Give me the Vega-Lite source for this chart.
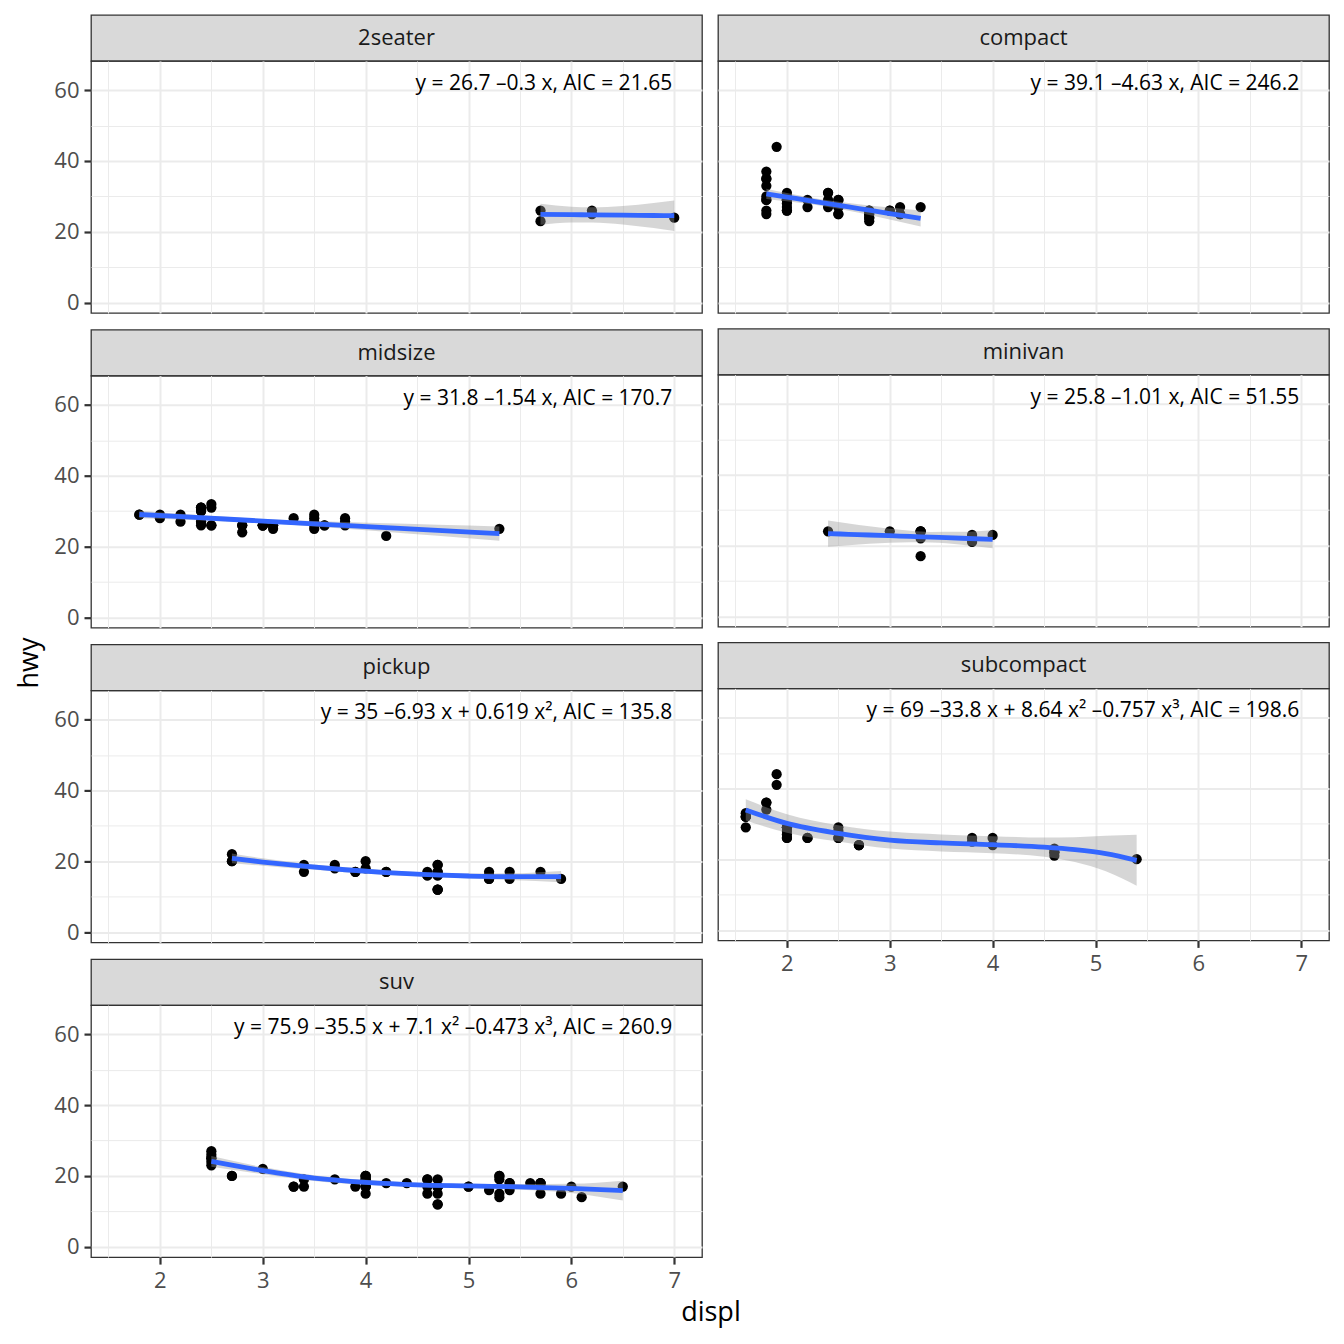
{
  "$schema": "https://vega.github.io/schema/vega-lite/v6.json",
  "background": "white",
  "padding": {"left": 16, "top": 14, "right": 10, "bottom": 10},
  "title": {"text": "displ", "orient": "bottom", "anchor": "middle", "offset": 8, "dx": 38, "fontSize": 27},
  "datasets": {
    "mpg": [
      {"class":"2seater","displ":5.7,"hwy":26},{"class":"2seater","displ":5.7,"hwy":23},{"class":"2seater","displ":6.2,"hwy":26},{"class":"2seater","displ":6.2,"hwy":25},{"class":"2seater","displ":7.0,"hwy":24},
      {"class":"compact","displ":1.8,"hwy":29},{"class":"compact","displ":1.8,"hwy":29},{"class":"compact","displ":2.0,"hwy":31},{"class":"compact","displ":2.0,"hwy":30},{"class":"compact","displ":2.8,"hwy":26},{"class":"compact","displ":2.8,"hwy":26},{"class":"compact","displ":3.1,"hwy":27},
      {"class":"compact","displ":1.8,"hwy":26},{"class":"compact","displ":1.8,"hwy":25},{"class":"compact","displ":2.0,"hwy":28},{"class":"compact","displ":2.0,"hwy":27},{"class":"compact","displ":2.8,"hwy":25},{"class":"compact","displ":2.8,"hwy":25},{"class":"compact","displ":3.1,"hwy":25},{"class":"compact","displ":3.1,"hwy":25},
      {"class":"compact","displ":2.4,"hwy":29},{"class":"compact","displ":2.4,"hwy":27},
      {"class":"compact","displ":2.5,"hwy":27},{"class":"compact","displ":2.5,"hwy":25},{"class":"compact","displ":2.5,"hwy":27},{"class":"compact","displ":2.5,"hwy":25},
      {"class":"compact","displ":2.2,"hwy":27},{"class":"compact","displ":2.2,"hwy":29},{"class":"compact","displ":2.4,"hwy":31},{"class":"compact","displ":2.4,"hwy":31},{"class":"compact","displ":3.0,"hwy":26},{"class":"compact","displ":3.0,"hwy":26},{"class":"compact","displ":3.3,"hwy":27},
      {"class":"compact","displ":1.8,"hwy":30},{"class":"compact","displ":1.8,"hwy":33},{"class":"compact","displ":1.8,"hwy":35},{"class":"compact","displ":1.8,"hwy":37},{"class":"compact","displ":1.8,"hwy":35},
      {"class":"compact","displ":2.0,"hwy":29},{"class":"compact","displ":2.0,"hwy":26},{"class":"compact","displ":2.0,"hwy":29},{"class":"compact","displ":2.0,"hwy":29},{"class":"compact","displ":2.8,"hwy":24},
      {"class":"compact","displ":1.9,"hwy":44},{"class":"compact","displ":2.0,"hwy":29},{"class":"compact","displ":2.0,"hwy":26},{"class":"compact","displ":2.0,"hwy":29},{"class":"compact","displ":2.0,"hwy":29},{"class":"compact","displ":2.5,"hwy":29},{"class":"compact","displ":2.5,"hwy":29},{"class":"compact","displ":2.8,"hwy":23},{"class":"compact","displ":2.8,"hwy":24},
      {"class":"midsize","displ":2.8,"hwy":24},{"class":"midsize","displ":3.1,"hwy":25},{"class":"midsize","displ":4.2,"hwy":23},
      {"class":"midsize","displ":2.4,"hwy":27},{"class":"midsize","displ":2.4,"hwy":30},{"class":"midsize","displ":3.1,"hwy":26},{"class":"midsize","displ":3.5,"hwy":29},{"class":"midsize","displ":3.6,"hwy":26},
      {"class":"midsize","displ":2.4,"hwy":26},{"class":"midsize","displ":2.4,"hwy":27},{"class":"midsize","displ":2.4,"hwy":30},{"class":"midsize","displ":2.4,"hwy":31},{"class":"midsize","displ":2.5,"hwy":26},{"class":"midsize","displ":2.5,"hwy":26},{"class":"midsize","displ":3.3,"hwy":28},
      {"class":"midsize","displ":2.5,"hwy":31},{"class":"midsize","displ":2.5,"hwy":32},{"class":"midsize","displ":3.5,"hwy":27},{"class":"midsize","displ":3.5,"hwy":26},
      {"class":"midsize","displ":3.0,"hwy":26},{"class":"midsize","displ":3.0,"hwy":26},{"class":"midsize","displ":3.5,"hwy":25},
      {"class":"midsize","displ":3.1,"hwy":26},{"class":"midsize","displ":3.8,"hwy":26},{"class":"midsize","displ":3.8,"hwy":27},{"class":"midsize","displ":3.8,"hwy":28},{"class":"midsize","displ":5.3,"hwy":25},
      {"class":"midsize","displ":2.2,"hwy":29},{"class":"midsize","displ":2.2,"hwy":27},{"class":"midsize","displ":2.4,"hwy":31},{"class":"midsize","displ":2.4,"hwy":31},{"class":"midsize","displ":3.0,"hwy":26},{"class":"midsize","displ":3.0,"hwy":26},{"class":"midsize","displ":3.5,"hwy":28},
      {"class":"midsize","displ":1.8,"hwy":29},{"class":"midsize","displ":1.8,"hwy":29},{"class":"midsize","displ":2.0,"hwy":28},{"class":"midsize","displ":2.0,"hwy":29},{"class":"midsize","displ":2.8,"hwy":26},{"class":"midsize","displ":2.8,"hwy":26},{"class":"midsize","displ":3.6,"hwy":26},
      {"class":"minivan","displ":2.4,"hwy":24},{"class":"minivan","displ":3.0,"hwy":24},{"class":"minivan","displ":3.3,"hwy":22},{"class":"minivan","displ":3.3,"hwy":24},{"class":"minivan","displ":3.3,"hwy":24},{"class":"minivan","displ":3.3,"hwy":24},{"class":"minivan","displ":3.3,"hwy":17},{"class":"minivan","displ":3.8,"hwy":22},{"class":"minivan","displ":3.8,"hwy":21},{"class":"minivan","displ":3.8,"hwy":23},{"class":"minivan","displ":4.0,"hwy":23},
      {"class":"pickup","displ":3.7,"hwy":19},{"class":"pickup","displ":3.7,"hwy":18},{"class":"pickup","displ":3.9,"hwy":17},{"class":"pickup","displ":3.9,"hwy":17},{"class":"pickup","displ":4.7,"hwy":19},{"class":"pickup","displ":4.7,"hwy":19},{"class":"pickup","displ":4.7,"hwy":12},{"class":"pickup","displ":5.2,"hwy":17},{"class":"pickup","displ":5.2,"hwy":15},
      {"class":"pickup","displ":4.7,"hwy":16},{"class":"pickup","displ":4.7,"hwy":12},{"class":"pickup","displ":4.7,"hwy":17},{"class":"pickup","displ":4.7,"hwy":17},{"class":"pickup","displ":4.7,"hwy":16},{"class":"pickup","displ":4.7,"hwy":12},{"class":"pickup","displ":5.2,"hwy":15},{"class":"pickup","displ":5.2,"hwy":16},{"class":"pickup","displ":5.7,"hwy":17},{"class":"pickup","displ":5.9,"hwy":15},
      {"class":"pickup","displ":4.2,"hwy":17},{"class":"pickup","displ":4.2,"hwy":17},{"class":"pickup","displ":4.6,"hwy":16},{"class":"pickup","displ":4.6,"hwy":16},{"class":"pickup","displ":4.6,"hwy":17},{"class":"pickup","displ":5.4,"hwy":15},{"class":"pickup","displ":5.4,"hwy":17},
      {"class":"pickup","displ":2.7,"hwy":20},{"class":"pickup","displ":2.7,"hwy":20},{"class":"pickup","displ":2.7,"hwy":22},{"class":"pickup","displ":3.4,"hwy":17},{"class":"pickup","displ":3.4,"hwy":19},{"class":"pickup","displ":4.0,"hwy":18},{"class":"pickup","displ":4.0,"hwy":20},
      {"class":"subcompact","displ":3.8,"hwy":26},{"class":"subcompact","displ":3.8,"hwy":25},{"class":"subcompact","displ":4.0,"hwy":26},{"class":"subcompact","displ":4.0,"hwy":24},{"class":"subcompact","displ":4.6,"hwy":21},{"class":"subcompact","displ":4.6,"hwy":22},{"class":"subcompact","displ":4.6,"hwy":23},{"class":"subcompact","displ":4.6,"hwy":22},{"class":"subcompact","displ":5.4,"hwy":20},
      {"class":"subcompact","displ":1.6,"hwy":33},{"class":"subcompact","displ":1.6,"hwy":32},{"class":"subcompact","displ":1.6,"hwy":32},{"class":"subcompact","displ":1.6,"hwy":29},{"class":"subcompact","displ":1.6,"hwy":32},{"class":"subcompact","displ":1.8,"hwy":34},{"class":"subcompact","displ":1.8,"hwy":36},{"class":"subcompact","displ":1.8,"hwy":36},{"class":"subcompact","displ":2.0,"hwy":29},
      {"class":"subcompact","displ":2.0,"hwy":26},{"class":"subcompact","displ":2.0,"hwy":29},{"class":"subcompact","displ":2.0,"hwy":28},{"class":"subcompact","displ":2.0,"hwy":27},{"class":"subcompact","displ":2.7,"hwy":24},{"class":"subcompact","displ":2.7,"hwy":24},{"class":"subcompact","displ":2.7,"hwy":24},
      {"class":"subcompact","displ":2.2,"hwy":26},{"class":"subcompact","displ":2.2,"hwy":26},{"class":"subcompact","displ":2.5,"hwy":26},{"class":"subcompact","displ":2.5,"hwy":26},
      {"class":"subcompact","displ":1.9,"hwy":44},{"class":"subcompact","displ":1.9,"hwy":41},{"class":"subcompact","displ":2.0,"hwy":29},{"class":"subcompact","displ":2.0,"hwy":26},{"class":"subcompact","displ":2.5,"hwy":28},{"class":"subcompact","displ":2.5,"hwy":29},
      {"class":"suv","displ":5.3,"hwy":20},{"class":"suv","displ":5.3,"hwy":15},{"class":"suv","displ":5.3,"hwy":20},{"class":"suv","displ":5.7,"hwy":17},{"class":"suv","displ":6.0,"hwy":17},
      {"class":"suv","displ":5.3,"hwy":19},{"class":"suv","displ":5.3,"hwy":14},{"class":"suv","displ":5.7,"hwy":15},{"class":"suv","displ":6.5,"hwy":17},
      {"class":"suv","displ":3.9,"hwy":17},{"class":"suv","displ":4.7,"hwy":17},{"class":"suv","displ":4.7,"hwy":12},{"class":"suv","displ":4.7,"hwy":17},{"class":"suv","displ":5.2,"hwy":16},{"class":"suv","displ":5.7,"hwy":18},{"class":"suv","displ":5.9,"hwy":15},
      {"class":"suv","displ":4.6,"hwy":17},{"class":"suv","displ":5.4,"hwy":17},{"class":"suv","displ":5.4,"hwy":18},
      {"class":"suv","displ":4.0,"hwy":17},{"class":"suv","displ":4.0,"hwy":19},{"class":"suv","displ":4.0,"hwy":17},{"class":"suv","displ":4.0,"hwy":19},{"class":"suv","displ":4.6,"hwy":19},{"class":"suv","displ":5.0,"hwy":17},
      {"class":"suv","displ":3.0,"hwy":22},{"class":"suv","displ":3.7,"hwy":19},{"class":"suv","displ":4.0,"hwy":20},{"class":"suv","displ":4.7,"hwy":17},{"class":"suv","displ":4.7,"hwy":12},{"class":"suv","displ":4.7,"hwy":19},{"class":"suv","displ":5.7,"hwy":18},{"class":"suv","displ":6.1,"hwy":14},
      {"class":"suv","displ":4.0,"hwy":15},{"class":"suv","displ":4.2,"hwy":18},{"class":"suv","displ":4.4,"hwy":18},{"class":"suv","displ":4.6,"hwy":15},
      {"class":"suv","displ":5.4,"hwy":17},{"class":"suv","displ":5.4,"hwy":16},{"class":"suv","displ":5.4,"hwy":18},
      {"class":"suv","displ":4.0,"hwy":17},{"class":"suv","displ":4.0,"hwy":19},{"class":"suv","displ":4.6,"hwy":19},{"class":"suv","displ":5.0,"hwy":17},
      {"class":"suv","displ":3.3,"hwy":17},{"class":"suv","displ":3.3,"hwy":17},{"class":"suv","displ":4.0,"hwy":20},{"class":"suv","displ":5.6,"hwy":18},
      {"class":"suv","displ":2.5,"hwy":25},{"class":"suv","displ":2.5,"hwy":24},{"class":"suv","displ":2.5,"hwy":27},{"class":"suv","displ":2.5,"hwy":25},{"class":"suv","displ":2.5,"hwy":26},{"class":"suv","displ":2.5,"hwy":23},
      {"class":"suv","displ":2.7,"hwy":20},{"class":"suv","displ":2.7,"hwy":20},{"class":"suv","displ":3.4,"hwy":19},{"class":"suv","displ":3.4,"hwy":17},{"class":"suv","displ":4.0,"hwy":20},{"class":"suv","displ":4.7,"hwy":17},
      {"class":"suv","displ":4.7,"hwy":15},{"class":"suv","displ":5.7,"hwy":18}
    ],
    "fits": [
      {"class":"2seater","displ":5.7,"fit":24.94,"lo":21.98,"hi":27.9},
      {"class":"2seater","displ":6.0,"fit":24.85,"lo":22.61,"hi":27.09},
      {"class":"2seater","displ":6.2,"fit":24.79,"lo":22.66,"hi":26.92},
      {"class":"2seater","displ":6.5,"fit":24.7,"lo":22.09,"hi":27.31},
      {"class":"2seater","displ":6.8,"fit":24.61,"lo":21.05,"hi":28.17},
      {"class":"2seater","displ":7.0,"fit":24.55,"lo":20.24,"hi":28.86},
      {"class":"compact","displ":1.8,"fit":30.73,"lo":29.29,"hi":32.17},
      {"class":"compact","displ":2.0,"fit":29.8,"lo":28.64,"hi":30.96},
      {"class":"compact","displ":2.2,"fit":28.88,"lo":27.91,"hi":29.85},
      {"class":"compact","displ":2.4,"fit":27.95,"lo":27.0,"hi":28.9},
      {"class":"compact","displ":2.6,"fit":27.02,"lo":25.92,"hi":28.12},
      {"class":"compact","displ":2.8,"fit":26.1,"lo":24.74,"hi":27.46},
      {"class":"compact","displ":3.0,"fit":25.17,"lo":23.48,"hi":26.86},
      {"class":"compact","displ":3.3,"fit":23.78,"lo":21.54,"hi":26.02},
      {"class":"midsize","displ":1.8,"fit":29.04,"lo":27.95,"hi":30.13},
      {"class":"midsize","displ":2.3,"fit":28.27,"lo":27.5,"hi":29.04},
      {"class":"midsize","displ":2.9,"fit":27.35,"lo":26.77,"hi":27.93},
      {"class":"midsize","displ":3.5,"fit":26.42,"lo":25.67,"hi":27.17},
      {"class":"midsize","displ":4.1,"fit":25.5,"lo":24.37,"hi":26.63},
      {"class":"midsize","displ":4.7,"fit":24.58,"lo":23.01,"hi":26.15},
      {"class":"midsize","displ":5.3,"fit":23.65,"lo":21.62,"hi":25.68},
      {"class":"minivan","displ":2.4,"fit":23.38,"lo":19.68,"hi":27.08},
      {"class":"minivan","displ":2.6,"fit":23.17,"lo":20.09,"hi":26.25},
      {"class":"minivan","displ":2.8,"fit":22.97,"lo":20.47,"hi":25.47},
      {"class":"minivan","displ":3.0,"fit":22.77,"lo":20.78,"hi":24.76},
      {"class":"minivan","displ":3.2,"fit":22.57,"lo":20.95,"hi":24.19},
      {"class":"minivan","displ":3.4,"fit":22.37,"lo":20.89,"hi":23.85},
      {"class":"minivan","displ":3.7,"fit":22.06,"lo":20.24,"hi":23.88},
      {"class":"minivan","displ":4.0,"fit":21.76,"lo":19.2,"hi":24.32},
      {"class":"pickup","displ":2.7,"fit":20.8,"lo":19.4,"hi":22.2},
      {"class":"pickup","displ":3.0,"fit":19.78,"lo":18.73,"hi":20.83},
      {"class":"pickup","displ":3.4,"fit":18.59,"lo":17.79,"hi":19.39},
      {"class":"pickup","displ":3.8,"fit":17.6,"lo":16.92,"hi":18.28},
      {"class":"pickup","displ":4.2,"fit":16.81,"lo":16.19,"hi":17.43},
      {"class":"pickup","displ":4.6,"fit":16.22,"lo":15.6,"hi":16.84},
      {"class":"pickup","displ":5.0,"fit":15.83,"lo":15.13,"hi":16.53},
      {"class":"pickup","displ":5.4,"fit":15.63,"lo":14.68,"hi":16.58},
      {"class":"pickup","displ":5.9,"fit":15.66,"lo":14.06,"hi":17.26},
      {"class":"subcompact","displ":1.6,"fit":33.9,"lo":30.9,"hi":36.9},
      {"class":"subcompact","displ":2.0,"fit":30.1,"lo":27.5,"hi":32.7},
      {"class":"subcompact","displ":2.5,"fit":27.3,"lo":25.0,"hi":29.6},
      {"class":"subcompact","displ":3.0,"fit":25.4,"lo":23.0,"hi":27.8},
      {"class":"subcompact","displ":3.5,"fit":24.6,"lo":22.2,"hi":27.0},
      {"class":"subcompact","displ":4.0,"fit":24.1,"lo":21.7,"hi":26.5},
      {"class":"subcompact","displ":4.5,"fit":23.4,"lo":20.7,"hi":26.1},
      {"class":"subcompact","displ":4.8,"fit":22.7,"lo":19.2,"hi":26.2},
      {"class":"subcompact","displ":5.1,"fit":21.6,"lo":16.6,"hi":26.6},
      {"class":"subcompact","displ":5.4,"fit":19.7,"lo":12.5,"hi":26.9},
      {"class":"suv","displ":2.5,"fit":24.1,"lo":22.6,"hi":25.6},
      {"class":"suv","displ":3.0,"fit":21.5,"lo":20.5,"hi":22.5},
      {"class":"suv","displ":3.5,"fit":19.4,"lo":18.6,"hi":20.2},
      {"class":"suv","displ":4.0,"fit":18.2,"lo":17.5,"hi":18.9},
      {"class":"suv","displ":4.5,"fit":17.5,"lo":16.9,"hi":18.1},
      {"class":"suv","displ":5.0,"fit":17.2,"lo":16.6,"hi":17.8},
      {"class":"suv","displ":5.5,"fit":16.9,"lo":16.1,"hi":17.7},
      {"class":"suv","displ":6.0,"fit":16.5,"lo":15.2,"hi":17.8},
      {"class":"suv","displ":6.5,"fit":15.85,"lo":13.05,"hi":18.65}
    ],
    "eqs": [
      {"class":"2seater","label":"y = 26.7 –0.3 x, AIC = 21.65"},
      {"class":"compact","label":"y = 39.1 –4.63 x, AIC = 246.2"},
      {"class":"midsize","label":"y = 31.8 –1.54 x, AIC = 170.7"},
      {"class":"minivan","label":"y = 25.8 –1.01 x, AIC = 51.55"},
      {"class":"pickup","label":"y = 35 –6.93 x + 0.619 x², AIC = 135.8"},
      {"class":"subcompact","label":"y = 69 –33.8 x + 8.64 x² –0.757 x³, AIC = 198.6"},
      {"class":"suv","label":"y = 75.9 –35.5 x + 7.1 x² –0.473 x³, AIC = 260.9"}
    ]
  },
  "vconcat": [
    {
      "title": {"text": "hwy", "orient": "left", "anchor": "middle", "offset": 9, "dx": -10, "fontSize": 27},
      "spacing": 14,
      "hconcat": [
        {
          "spacing": 13.7,
          "vconcat": [
            {
              "spacing": 0, "bounds": "flush",
              "vconcat": [
                {"width": 611, "height": 46, "view": {"fill": "#D9D9D9", "stroke": "#333333", "strokeWidth": 1.3},
                 "data": {"name": "eqs"}, "transform": [{"filter": "datum.class === '2seater'"}],
                 "mark": {"type": "text", "fontSize": 22, "color": "#1A1A1A"}, "encoding": {"text": {"field": "class"}}},
                {"width": 611, "height": 252,
                 "layer": [
                   {"data": {"name": "mpg"}, "transform": [{"filter": "datum.class === '2seater'"}],
                    "mark": {"type": "point", "filled": true, "size": 105, "color": "black", "opacity": 1},
                    "encoding": {
                      "x": {"field": "displ", "type": "quantitative", "title": null, "scale": {"domain": [1.33, 7.27], "nice": false, "zero": false},
                            "axis": {"values": [1.5,2,2.5,3,3.5,4,4.5,5,5.5,6,6.5,7], "labels": false, "ticks": false, "gridWidth": {"condition": {"test": "datum.value % 1 === 0", "value": 2}, "value": 1}}},
                      "y": {"field": "hwy", "type": "quantitative", "title": null, "scale": {"domain": [-2.9, 68.2], "nice": false, "zero": false},
                            "axis": {"values": [0,10,20,30,40,50,60], "labelOverlap": false, "labelExpr": "datum.value % 20 === 0 ? '' + datum.value : ''", "tickOpacity": {"condition": {"test": "datum.value % 20 === 0", "value": 1}, "value": 0}, "gridWidth": {"condition": {"test": "datum.value % 20 === 0", "value": 2}, "value": 1}}}
                    }},
                   {"data": {"name": "fits"}, "transform": [{"filter": "datum.class === '2seater'"}],
                    "mark": {"type": "area", "color": "#999999", "opacity": 0.4, "interpolate": "monotone"},
                    "encoding": {"x": {"field": "displ", "type": "quantitative", "title": null}, "y": {"field": "lo", "type": "quantitative", "title": null}, "y2": {"field": "hi"}}},
                   {"data": {"name": "fits"}, "transform": [{"filter": "datum.class === '2seater'"}],
                    "mark": {"type": "line", "color": "#3366FF", "strokeWidth": 4.8, "interpolate": "monotone"},
                    "encoding": {"x": {"field": "displ", "type": "quantitative", "title": null}, "y": {"field": "fit", "type": "quantitative", "title": null}}},
                   {"data": {"name": "eqs"}, "transform": [{"filter": "datum.class === '2seater'"}],
                    "mark": {"type": "text", "align": "right", "baseline": "alphabetic", "fontSize": 21, "color": "black"},
                    "encoding": {"x": {"datum": 6.98}, "y": {"datum": 60}, "text": {"field": "label"}}}
                 ]}
              ]
            },
            {
              "spacing": 0, "bounds": "flush",
              "vconcat": [
                {"width": 611, "height": 46, "view": {"fill": "#D9D9D9", "stroke": "#333333", "strokeWidth": 1.3},
                 "data": {"name": "eqs"}, "transform": [{"filter": "datum.class === 'midsize'"}],
                 "mark": {"type": "text", "fontSize": 22, "color": "#1A1A1A"}, "encoding": {"text": {"field": "class"}}},
                {"width": 611, "height": 252,
                 "layer": [
                   {"data": {"name": "mpg"}, "transform": [{"filter": "datum.class === 'midsize'"}],
                    "mark": {"type": "point", "filled": true, "size": 105, "color": "black", "opacity": 1},
                    "encoding": {
                      "x": {"field": "displ", "type": "quantitative", "title": null, "scale": {"domain": [1.33, 7.27], "nice": false, "zero": false},
                            "axis": {"values": [1.5,2,2.5,3,3.5,4,4.5,5,5.5,6,6.5,7], "labels": false, "ticks": false, "gridWidth": {"condition": {"test": "datum.value % 1 === 0", "value": 2}, "value": 1}}},
                      "y": {"field": "hwy", "type": "quantitative", "title": null, "scale": {"domain": [-2.9, 68.2], "nice": false, "zero": false},
                            "axis": {"values": [0,10,20,30,40,50,60], "labelOverlap": false, "labelExpr": "datum.value % 20 === 0 ? '' + datum.value : ''", "tickOpacity": {"condition": {"test": "datum.value % 20 === 0", "value": 1}, "value": 0}, "gridWidth": {"condition": {"test": "datum.value % 20 === 0", "value": 2}, "value": 1}}}
                    }},
                   {"data": {"name": "fits"}, "transform": [{"filter": "datum.class === 'midsize'"}],
                    "mark": {"type": "area", "color": "#999999", "opacity": 0.4, "interpolate": "monotone"},
                    "encoding": {"x": {"field": "displ", "type": "quantitative", "title": null}, "y": {"field": "lo", "type": "quantitative", "title": null}, "y2": {"field": "hi"}}},
                   {"data": {"name": "fits"}, "transform": [{"filter": "datum.class === 'midsize'"}],
                    "mark": {"type": "line", "color": "#3366FF", "strokeWidth": 4.8, "interpolate": "monotone"},
                    "encoding": {"x": {"field": "displ", "type": "quantitative", "title": null}, "y": {"field": "fit", "type": "quantitative", "title": null}}},
                   {"data": {"name": "eqs"}, "transform": [{"filter": "datum.class === 'midsize'"}],
                    "mark": {"type": "text", "align": "right", "baseline": "alphabetic", "fontSize": 21, "color": "black"},
                    "encoding": {"x": {"datum": 6.98}, "y": {"datum": 60}, "text": {"field": "label"}}}
                 ]}
              ]
            },
            {
              "spacing": 0, "bounds": "flush",
              "vconcat": [
                {"width": 611, "height": 46, "view": {"fill": "#D9D9D9", "stroke": "#333333", "strokeWidth": 1.3},
                 "data": {"name": "eqs"}, "transform": [{"filter": "datum.class === 'pickup'"}],
                 "mark": {"type": "text", "fontSize": 22, "color": "#1A1A1A"}, "encoding": {"text": {"field": "class"}}},
                {"width": 611, "height": 252,
                 "layer": [
                   {"data": {"name": "mpg"}, "transform": [{"filter": "datum.class === 'pickup'"}],
                    "mark": {"type": "point", "filled": true, "size": 105, "color": "black", "opacity": 1},
                    "encoding": {
                      "x": {"field": "displ", "type": "quantitative", "title": null, "scale": {"domain": [1.33, 7.27], "nice": false, "zero": false},
                            "axis": {"values": [1.5,2,2.5,3,3.5,4,4.5,5,5.5,6,6.5,7], "labels": false, "ticks": false, "gridWidth": {"condition": {"test": "datum.value % 1 === 0", "value": 2}, "value": 1}}},
                      "y": {"field": "hwy", "type": "quantitative", "title": null, "scale": {"domain": [-2.9, 68.2], "nice": false, "zero": false},
                            "axis": {"values": [0,10,20,30,40,50,60], "labelOverlap": false, "labelExpr": "datum.value % 20 === 0 ? '' + datum.value : ''", "tickOpacity": {"condition": {"test": "datum.value % 20 === 0", "value": 1}, "value": 0}, "gridWidth": {"condition": {"test": "datum.value % 20 === 0", "value": 2}, "value": 1}}}
                    }},
                   {"data": {"name": "fits"}, "transform": [{"filter": "datum.class === 'pickup'"}],
                    "mark": {"type": "area", "color": "#999999", "opacity": 0.4, "interpolate": "monotone"},
                    "encoding": {"x": {"field": "displ", "type": "quantitative", "title": null}, "y": {"field": "lo", "type": "quantitative", "title": null}, "y2": {"field": "hi"}}},
                   {"data": {"name": "fits"}, "transform": [{"filter": "datum.class === 'pickup'"}],
                    "mark": {"type": "line", "color": "#3366FF", "strokeWidth": 4.8, "interpolate": "monotone"},
                    "encoding": {"x": {"field": "displ", "type": "quantitative", "title": null}, "y": {"field": "fit", "type": "quantitative", "title": null}}},
                   {"data": {"name": "eqs"}, "transform": [{"filter": "datum.class === 'pickup'"}],
                    "mark": {"type": "text", "align": "right", "baseline": "alphabetic", "fontSize": 21, "color": "black"},
                    "encoding": {"x": {"datum": 6.98}, "y": {"datum": 60}, "text": {"field": "label"}}}
                 ]}
              ]
            },
            {
              "spacing": 0, "bounds": "flush",
              "vconcat": [
                {"width": 611, "height": 46, "view": {"fill": "#D9D9D9", "stroke": "#333333", "strokeWidth": 1.3},
                 "data": {"name": "eqs"}, "transform": [{"filter": "datum.class === 'suv'"}],
                 "mark": {"type": "text", "fontSize": 22, "color": "#1A1A1A"}, "encoding": {"text": {"field": "class"}}},
                {"width": 611, "height": 252,
                 "layer": [
                   {"data": {"name": "mpg"}, "transform": [{"filter": "datum.class === 'suv'"}],
                    "mark": {"type": "point", "filled": true, "size": 105, "color": "black", "opacity": 1},
                    "encoding": {
                      "x": {"field": "displ", "type": "quantitative", "title": null, "scale": {"domain": [1.33, 7.27], "nice": false, "zero": false},
                            "axis": {"values": [1.5,2,2.5,3,3.5,4,4.5,5,5.5,6,6.5,7], "labelOverlap": false, "labelPadding": 6, "labelExpr": "datum.value % 1 === 0 ? '' + datum.value : ''", "tickOpacity": {"condition": {"test": "datum.value % 1 === 0", "value": 1}, "value": 0}, "gridWidth": {"condition": {"test": "datum.value % 1 === 0", "value": 2}, "value": 1}}},
                      "y": {"field": "hwy", "type": "quantitative", "title": null, "scale": {"domain": [-2.9, 68.2], "nice": false, "zero": false},
                            "axis": {"values": [0,10,20,30,40,50,60], "labelOverlap": false, "labelExpr": "datum.value % 20 === 0 ? '' + datum.value : ''", "tickOpacity": {"condition": {"test": "datum.value % 20 === 0", "value": 1}, "value": 0}, "gridWidth": {"condition": {"test": "datum.value % 20 === 0", "value": 2}, "value": 1}}}
                    }},
                   {"data": {"name": "fits"}, "transform": [{"filter": "datum.class === 'suv'"}],
                    "mark": {"type": "area", "color": "#999999", "opacity": 0.4, "interpolate": "monotone"},
                    "encoding": {"x": {"field": "displ", "type": "quantitative", "title": null}, "y": {"field": "lo", "type": "quantitative", "title": null}, "y2": {"field": "hi"}}},
                   {"data": {"name": "fits"}, "transform": [{"filter": "datum.class === 'suv'"}],
                    "mark": {"type": "line", "color": "#3366FF", "strokeWidth": 4.8, "interpolate": "monotone"},
                    "encoding": {"x": {"field": "displ", "type": "quantitative", "title": null}, "y": {"field": "fit", "type": "quantitative", "title": null}}},
                   {"data": {"name": "eqs"}, "transform": [{"filter": "datum.class === 'suv'"}],
                    "mark": {"type": "text", "align": "right", "baseline": "alphabetic", "fontSize": 21, "color": "black"},
                    "encoding": {"x": {"datum": 6.98}, "y": {"datum": 60}, "text": {"field": "label"}}}
                 ]}
              ]
            }
          ]
        },
        {
          "spacing": 13.7,
          "vconcat": [
            {
              "spacing": 0, "bounds": "flush",
              "vconcat": [
                {"width": 611, "height": 46, "view": {"fill": "#D9D9D9", "stroke": "#333333", "strokeWidth": 1.3},
                 "data": {"name": "eqs"}, "transform": [{"filter": "datum.class === 'compact'"}],
                 "mark": {"type": "text", "fontSize": 22, "color": "#1A1A1A"}, "encoding": {"text": {"field": "class"}}},
                {"width": 611, "height": 252,
                 "layer": [
                   {"data": {"name": "mpg"}, "transform": [{"filter": "datum.class === 'compact'"}],
                    "mark": {"type": "point", "filled": true, "size": 105, "color": "black", "opacity": 1},
                    "encoding": {
                      "x": {"field": "displ", "type": "quantitative", "title": null, "scale": {"domain": [1.33, 7.27], "nice": false, "zero": false},
                            "axis": {"values": [1.5,2,2.5,3,3.5,4,4.5,5,5.5,6,6.5,7], "labels": false, "ticks": false, "gridWidth": {"condition": {"test": "datum.value % 1 === 0", "value": 2}, "value": 1}}},
                      "y": {"field": "hwy", "type": "quantitative", "title": null, "scale": {"domain": [-2.9, 68.2], "nice": false, "zero": false},
                            "axis": {"values": [0,10,20,30,40,50,60], "labels": false, "ticks": false, "gridWidth": {"condition": {"test": "datum.value % 20 === 0", "value": 2}, "value": 1}}}
                    }},
                   {"data": {"name": "fits"}, "transform": [{"filter": "datum.class === 'compact'"}],
                    "mark": {"type": "area", "color": "#999999", "opacity": 0.4, "interpolate": "monotone"},
                    "encoding": {"x": {"field": "displ", "type": "quantitative", "title": null}, "y": {"field": "lo", "type": "quantitative", "title": null}, "y2": {"field": "hi"}}},
                   {"data": {"name": "fits"}, "transform": [{"filter": "datum.class === 'compact'"}],
                    "mark": {"type": "line", "color": "#3366FF", "strokeWidth": 4.8, "interpolate": "monotone"},
                    "encoding": {"x": {"field": "displ", "type": "quantitative", "title": null}, "y": {"field": "fit", "type": "quantitative", "title": null}}},
                   {"data": {"name": "eqs"}, "transform": [{"filter": "datum.class === 'compact'"}],
                    "mark": {"type": "text", "align": "right", "baseline": "alphabetic", "fontSize": 21, "color": "black"},
                    "encoding": {"x": {"datum": 6.98}, "y": {"datum": 60}, "text": {"field": "label"}}}
                 ]}
              ]
            },
            {
              "spacing": 0, "bounds": "flush",
              "vconcat": [
                {"width": 611, "height": 46, "view": {"fill": "#D9D9D9", "stroke": "#333333", "strokeWidth": 1.3},
                 "data": {"name": "eqs"}, "transform": [{"filter": "datum.class === 'minivan'"}],
                 "mark": {"type": "text", "fontSize": 22, "color": "#1A1A1A"}, "encoding": {"text": {"field": "class"}}},
                {"width": 611, "height": 252,
                 "layer": [
                   {"data": {"name": "mpg"}, "transform": [{"filter": "datum.class === 'minivan'"}],
                    "mark": {"type": "point", "filled": true, "size": 105, "color": "black", "opacity": 1},
                    "encoding": {
                      "x": {"field": "displ", "type": "quantitative", "title": null, "scale": {"domain": [1.33, 7.27], "nice": false, "zero": false},
                            "axis": {"values": [1.5,2,2.5,3,3.5,4,4.5,5,5.5,6,6.5,7], "labels": false, "ticks": false, "gridWidth": {"condition": {"test": "datum.value % 1 === 0", "value": 2}, "value": 1}}},
                      "y": {"field": "hwy", "type": "quantitative", "title": null, "scale": {"domain": [-2.9, 68.2], "nice": false, "zero": false},
                            "axis": {"values": [0,10,20,30,40,50,60], "labels": false, "ticks": false, "gridWidth": {"condition": {"test": "datum.value % 20 === 0", "value": 2}, "value": 1}}}
                    }},
                   {"data": {"name": "fits"}, "transform": [{"filter": "datum.class === 'minivan'"}],
                    "mark": {"type": "area", "color": "#999999", "opacity": 0.4, "interpolate": "monotone"},
                    "encoding": {"x": {"field": "displ", "type": "quantitative", "title": null}, "y": {"field": "lo", "type": "quantitative", "title": null}, "y2": {"field": "hi"}}},
                   {"data": {"name": "fits"}, "transform": [{"filter": "datum.class === 'minivan'"}],
                    "mark": {"type": "line", "color": "#3366FF", "strokeWidth": 4.8, "interpolate": "monotone"},
                    "encoding": {"x": {"field": "displ", "type": "quantitative", "title": null}, "y": {"field": "fit", "type": "quantitative", "title": null}}},
                   {"data": {"name": "eqs"}, "transform": [{"filter": "datum.class === 'minivan'"}],
                    "mark": {"type": "text", "align": "right", "baseline": "alphabetic", "fontSize": 21, "color": "black"},
                    "encoding": {"x": {"datum": 6.98}, "y": {"datum": 60}, "text": {"field": "label"}}}
                 ]}
              ]
            },
            {
              "spacing": 0, "bounds": "flush",
              "vconcat": [
                {"width": 611, "height": 46, "view": {"fill": "#D9D9D9", "stroke": "#333333", "strokeWidth": 1.3},
                 "data": {"name": "eqs"}, "transform": [{"filter": "datum.class === 'subcompact'"}],
                 "mark": {"type": "text", "fontSize": 22, "color": "#1A1A1A"}, "encoding": {"text": {"field": "class"}}},
                {"width": 611, "height": 252,
                 "layer": [
                   {"data": {"name": "mpg"}, "transform": [{"filter": "datum.class === 'subcompact'"}],
                    "mark": {"type": "point", "filled": true, "size": 105, "color": "black", "opacity": 1},
                    "encoding": {
                      "x": {"field": "displ", "type": "quantitative", "title": null, "scale": {"domain": [1.33, 7.27], "nice": false, "zero": false},
                            "axis": {"values": [1.5,2,2.5,3,3.5,4,4.5,5,5.5,6,6.5,7], "labelOverlap": false, "labelPadding": 6, "labelExpr": "datum.value % 1 === 0 ? '' + datum.value : ''", "tickOpacity": {"condition": {"test": "datum.value % 1 === 0", "value": 1}, "value": 0}, "gridWidth": {"condition": {"test": "datum.value % 1 === 0", "value": 2}, "value": 1}}},
                      "y": {"field": "hwy", "type": "quantitative", "title": null, "scale": {"domain": [-2.9, 68.2], "nice": false, "zero": false},
                            "axis": {"values": [0,10,20,30,40,50,60], "labels": false, "ticks": false, "gridWidth": {"condition": {"test": "datum.value % 20 === 0", "value": 2}, "value": 1}}}
                    }},
                   {"data": {"name": "fits"}, "transform": [{"filter": "datum.class === 'subcompact'"}],
                    "mark": {"type": "area", "color": "#999999", "opacity": 0.4, "interpolate": "monotone"},
                    "encoding": {"x": {"field": "displ", "type": "quantitative", "title": null}, "y": {"field": "lo", "type": "quantitative", "title": null}, "y2": {"field": "hi"}}},
                   {"data": {"name": "fits"}, "transform": [{"filter": "datum.class === 'subcompact'"}],
                    "mark": {"type": "line", "color": "#3366FF", "strokeWidth": 4.8, "interpolate": "monotone"},
                    "encoding": {"x": {"field": "displ", "type": "quantitative", "title": null}, "y": {"field": "fit", "type": "quantitative", "title": null}}},
                   {"data": {"name": "eqs"}, "transform": [{"filter": "datum.class === 'subcompact'"}],
                    "mark": {"type": "text", "align": "right", "baseline": "alphabetic", "fontSize": 21, "color": "black"},
                    "encoding": {"x": {"datum": 6.98}, "y": {"datum": 60}, "text": {"field": "label"}}}
                 ]}
              ]
            }
          ]
        }
      ]
    }
  ],
  "config": {
    "font": "Open Sans",
    "view": {"stroke": "#333333", "strokeWidth": 1.3},
    "axis": {"domain": false, "grid": true, "gridColor": "#EBEBEB", "tickColor": "#333333", "tickSize": 7, "tickWidth": 2.2, "labelColor": "#4D4D4D", "labelFontSize": 22, "labelPadding": 5},
    "title": {"fontSize": 27, "fontWeight": "normal", "color": "black"}
  }
}
